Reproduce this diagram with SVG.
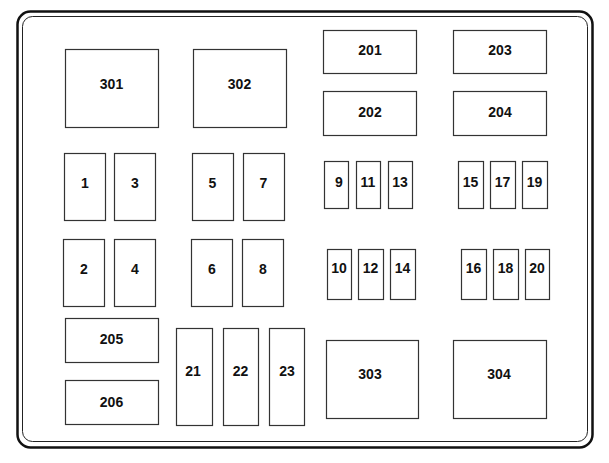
<svg xmlns="http://www.w3.org/2000/svg" width="609" height="463" viewBox="0 0 609 463">
<style>
.b{fill:#fff;stroke:#333;stroke-width:1.2}
.t{font-family:"Liberation Sans",Arial,sans-serif;font-weight:bold;font-size:14px;fill:#111;text-anchor:middle}
</style>
<rect x="0" y="0" width="609" height="463" fill="#fff"/>
<g id="frame">
<rect x="17.5" y="11.5" width="575" height="436" rx="13" fill="none" stroke="#111" stroke-width="2.5"/>
<rect x="22.5" y="16.5" width="565" height="425" rx="10" fill="none" stroke="#222" stroke-width="1"/>
</g>
<g id="connectors"></g>
<g id="n301"><rect class="b" x="65.5" y="49.5" width="93" height="78"/><text class="t" x="111.5" y="89">301</text></g>
<g id="n302"><rect class="b" x="193.5" y="49.5" width="93" height="78"/><text class="t" x="239.5" y="89">302</text></g>
<g id="n201"><rect class="b" x="323.5" y="30.5" width="93" height="43"/><text class="t" x="370" y="55">201</text></g>
<g id="n203"><rect class="b" x="453.5" y="30.5" width="93" height="43"/><text class="t" x="500" y="55">203</text></g>
<g id="n202"><rect class="b" x="323.5" y="91.5" width="93" height="44"/><text class="t" x="370" y="117">202</text></g>
<g id="n204"><rect class="b" x="453.5" y="91.5" width="93" height="44"/><text class="t" x="500" y="117">204</text></g>
<g id="n1"><rect class="b" x="64.5" y="153.5" width="41" height="67"/><text class="t" x="85" y="188">1</text></g>
<g id="n3"><rect class="b" x="114.5" y="153.5" width="41" height="67"/><text class="t" x="135" y="188">3</text></g>
<g id="n5"><rect class="b" x="192.5" y="153.5" width="41" height="67"/><text class="t" x="212.5" y="188">5</text></g>
<g id="n7"><rect class="b" x="243.5" y="153.5" width="41" height="67"/><text class="t" x="263.5" y="188">7</text></g>
<g id="n9"><rect class="b" x="324.5" y="161.5" width="24" height="47"/><text class="t" x="339" y="187">9</text></g>
<g id="n11"><rect class="b" x="356.5" y="161.5" width="24" height="47"/><text class="t" x="368" y="187">11</text></g>
<g id="n13"><rect class="b" x="388.5" y="161.5" width="24" height="47"/><text class="t" x="400" y="187">13</text></g>
<g id="n15"><rect class="b" x="458.5" y="161.5" width="25" height="47"/><text class="t" x="470.5" y="187">15</text></g>
<g id="n17"><rect class="b" x="490.5" y="161.5" width="25" height="47"/><text class="t" x="502.5" y="187">17</text></g>
<g id="n19"><rect class="b" x="522.5" y="161.5" width="25" height="47"/><text class="t" x="534.5" y="187">19</text></g>
<g id="n2"><rect class="b" x="63.5" y="239.5" width="41" height="67"/><text class="t" x="84" y="274">2</text></g>
<g id="n4"><rect class="b" x="114.5" y="239.5" width="41" height="67"/><text class="t" x="135" y="274">4</text></g>
<g id="n6"><rect class="b" x="191.5" y="239.5" width="41" height="67"/><text class="t" x="212" y="274">6</text></g>
<g id="n8"><rect class="b" x="242.5" y="239.5" width="41" height="67"/><text class="t" x="263" y="274">8</text></g>
<g id="n10"><rect class="b" x="327.5" y="249.5" width="24" height="50"/><text class="t" x="339" y="273">10</text></g>
<g id="n12"><rect class="b" x="358.5" y="249.5" width="25" height="50"/><text class="t" x="370.5" y="273">12</text></g>
<g id="n14"><rect class="b" x="390.5" y="249.5" width="25" height="50"/><text class="t" x="402.5" y="273">14</text></g>
<g id="n16"><rect class="b" x="461.5" y="249.5" width="25" height="50"/><text class="t" x="473.5" y="273">16</text></g>
<g id="n18"><rect class="b" x="493.5" y="249.5" width="25" height="50"/><text class="t" x="505.5" y="273">18</text></g>
<g id="n20"><rect class="b" x="525.5" y="249.5" width="24" height="50"/><text class="t" x="537" y="273">20</text></g>
<g id="n205"><rect class="b" x="65.5" y="318.5" width="93" height="44"/><text class="t" x="111.5" y="344">205</text></g>
<g id="n206"><rect class="b" x="65.5" y="380.5" width="93" height="44"/><text class="t" x="111.5" y="407">206</text></g>
<g id="n21"><rect class="b" x="176.5" y="328.5" width="36" height="97"/><text class="t" x="193" y="376">21</text></g>
<g id="n22"><rect class="b" x="223.5" y="328.5" width="35" height="97"/><text class="t" x="240.5" y="376">22</text></g>
<g id="n23"><rect class="b" x="269.5" y="328.5" width="35" height="97"/><text class="t" x="287" y="376">23</text></g>
<g id="n303"><rect class="b" x="326.5" y="340.5" width="92" height="78"/><text class="t" x="370" y="379">303</text></g>
<g id="n304"><rect class="b" x="453.5" y="340.5" width="93" height="78"/><text class="t" x="499" y="379">304</text></g>
</svg>
